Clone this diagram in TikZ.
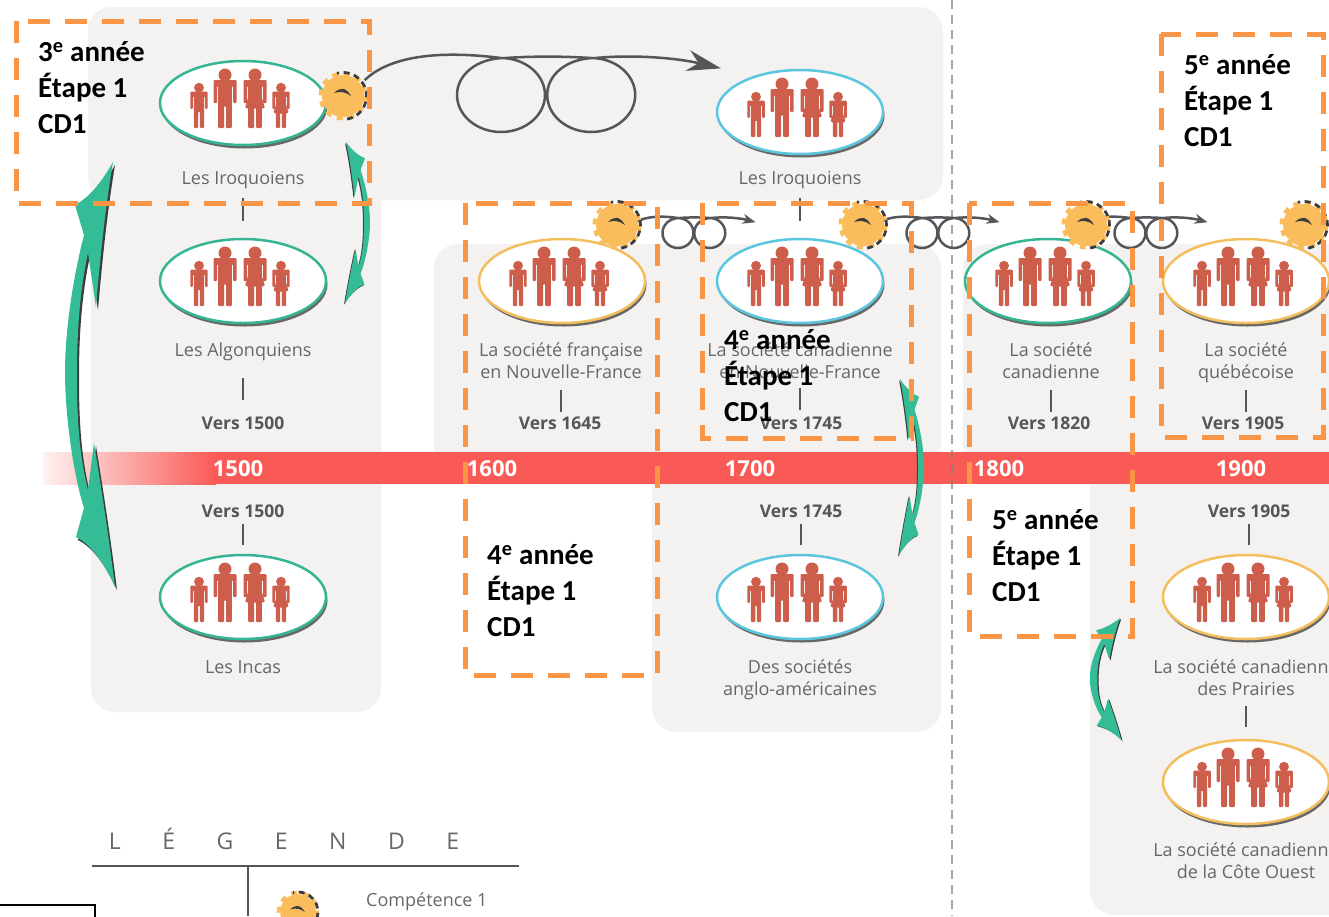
\documentclass[tikz,border=0pt]{standalone}
\usepackage{fontspec}
\usepackage{tikz}
\usetikzlibrary{shapes.geometric,shadows,arrows.meta}
\newfontfamily\panelfont{Open Sans}
\newfontfamily\notefont{Carlito}
\definecolor{panel gray}{HTML}{F3F2F0}
\definecolor{bar red}{HTML}{F95A56}
\definecolor{figure red}{HTML}{CE5E4C}
\definecolor{label gray}{HTML}{66676A}
\definecolor{date gray}{HTML}{54565A}
\definecolor{dark gray}{HTML}{3C3C3E}
\definecolor{soft green}{HTML}{36B594}
\definecolor{soft blue}{HTML}{5CC6DE}
\definecolor{soft yellow}{HTML}{F3BE5E}
\definecolor{gear yellow}{HTML}{FBBC5B}
\definecolor{swoosh green}{HTML}{33BC95}
\definecolor{etape orange}{HTML}{F99544}
\tikzset{
	soc label/.style = {font = \panelfont\fontsize{18}{22}\selectfont, text = label gray, align = center, inner sep = 0pt, text height = 16pt, text depth = 4pt},
	date label/.style = {font = \panelfont\bfseries\fontsize{17.5}{22}\selectfont, text = date gray, inner sep = 0pt, text height = 16pt, text depth = 4pt},
	year label/.style = {font = \panelfont\bfseries\fontsize{22}{24}\selectfont, text = white, inner sep = 0pt},
	note label/.style = {font = \notefont\bfseries\fontsize{29}{36}\selectfont, text = black, align = left, anchor = west, inner sep = 0pt},
	oval/.style = {ellipse, fill = white, draw = #1, line width = 2.5pt, minimum width = 166pt, minimum height = 84pt, inner sep = 0pt,
		drop shadow = {shadow xshift = 1.5pt, shadow yshift = -3.5pt, fill = gray!70!black, opacity = 0.9}},
	tick/.style = {draw = date gray, line width = 2.5pt},
	etape/.style = {draw = etape orange, line width = 5pt, dash pattern = on 22pt off 15pt},
	curl line/.style = {draw = date gray, line width = 2.5pt},
	man/.pic = {
		\fill[figure red] (0, -53) circle (6.5);
		\fill[figure red, rounded corners = 1pt] (-11.5, -48) -- (11.5, -48) -- (11.5, -25) -- (8, -25) -- (8, -42) -- (6.8, -42)
			-- (6.8, 0) -- (1, 0) -- (1, -22) -- (-1, -22) -- (-1, 0) -- (-6.8, 0) -- (-6.8, -42) -- (-8, -42) -- (-8, -25) -- (-11.5, -25) -- cycle;
	},
	woman/.pic = {
		\fill[figure red] (0, -53) circle (6.5);
		\fill[figure red, rounded corners = 1pt] (-11.5, -48) -- (11.5, -48) -- (11.5, -25) -- (8, -25) -- (8, -42) -- (6.8, -42)
			-- (6.8, -30) -- (10, -20) -- (6.8, -20)
			-- (6.8, 0) -- (1, 0) -- (1, -20) -- (-1, -20) -- (-1, 0) -- (-6.8, 0)
			-- (-6.8, -20) -- (-10, -20) -- (-6.8, -30) -- (-6.8, -42) -- (-8, -42) -- (-8, -25) -- (-11.5, -25) -- cycle;
	},
	family/.pic = {
		\pic[scale = 0.76] at (-44, 25) {man};
		\pic at (-18, 25) {man};
		\pic at (12, 25) {woman};
		\pic[scale = 0.76] at (38, 25) {woman};
	},
	gear/.pic = {
		\fill[gear yellow] (0, 0) circle (21);
		\draw[gear yellow, line width = 5pt, dash pattern = on 5.8pt off 5.8pt] (0, 0) circle (22);
		\draw[dark gray, line width = 2.8pt, dash pattern = on 6pt off 4.5pt] (80:23.5) arc (80:-105:23.5);
		\fill[dark gray] (-9, -3) .. controls (-3, -9) and (3, -9) .. (8, 0) .. controls (3, -4) and (-3, -5) .. cycle;
	},
	swoosh/.pic = {
		\fill[dark gray, shift = {(2, 3)}] (0, 0) .. controls (-13, 23) and (-25, 36) .. (-38, 43) -- (-29, 73)
			.. controls (-43, 128) and (-48, 178) .. (-48, 211) .. controls (-48, 248) and (-41, 308) .. (-29, 346) -- (-37, 375)
			.. controls (-21, 383) and (-8, 403) .. (2, 425) .. controls (-5, 368) and (-13, 318) .. (-19, 281) -- (-25, 328)
			.. controls (-35, 288) and (-36, 248) .. (-36, 211) .. controls (-36, 168) and (-33, 128) .. (-25, 91) -- (-17, 145)
			.. controls (-13, 98) and (-8, 48) .. cycle;
		\fill[swoosh green] (0, 0) .. controls (-13, 23) and (-25, 36) .. (-38, 43) -- (-29, 73)
			.. controls (-43, 128) and (-48, 178) .. (-48, 211) .. controls (-48, 248) and (-41, 308) .. (-29, 346) -- (-37, 375)
			.. controls (-21, 383) and (-8, 403) .. (2, 425) .. controls (-5, 368) and (-13, 318) .. (-19, 281) -- (-25, 328)
			.. controls (-35, 288) and (-36, 248) .. (-36, 211) .. controls (-36, 168) and (-33, 128) .. (-25, 91) -- (-17, 145)
			.. controls (-13, 98) and (-8, 48) .. cycle;
	}
}
% an oval with its four figures
\newcommand{\societe}[4]{
	\node[oval = #4] (#1) at (#2, #3) {};
	\pic at (#1) {family};
}
% the curly arrow, given by the centre of its first loop and the size of the loops
\newcommand{\curlarrow}[6]{
	\draw[curl line, -{Stealth[length = #5, width = #6]}, shift = {(#1, #2)}, xscale = #3, yscale = #4]
		(-3.1, -0.4) .. controls (-2.4, -1.2) and (-1, -1.15) .. (0, -1)
		.. controls (0.55, -1) and (1, -0.55) .. (1, 0)
		.. controls (1, 0.55) and (0.55, 1) .. (0, 1)
		.. controls (-0.55, 1) and (-1, 0.55) .. (-1, 0)
		.. controls (-1, -0.55) and (-0.55, -1) .. (0.1, -1)
		.. controls (0.7, -1.05) and (1.4, -1.05) .. (2.05, -1)
		.. controls (2.6, -1) and (3.05, -0.55) .. (3.05, 0)
		.. controls (3.05, 0.55) and (2.6, 1) .. (2.05, 1)
		.. controls (1.5, 1) and (1.05, 0.55) .. (1.05, 0)
		.. controls (1.05, -0.55) and (1.5, -1) .. (2.15, -1)
		.. controls (3, -1.1) and (4, -1) .. (5, -0.72);
}
\begin{document}
\begin{tikzpicture}[x = 1pt, y = -1pt]
	\useasboundingbox (0, 0) rectangle (1329, 916);
	\clip (0, 0) rectangle (1329, 916);
	% gray panels
	\fill[panel gray, rounded corners = 24pt] (88, 7) rectangle (943, 200);
	\fill[panel gray, rounded corners = 24pt] (91, 100) rectangle (381, 712);
	\fill[panel gray, rounded corners = 24pt] (434, 244) rectangle (941, 470);
	\fill[panel gray, rounded corners = 24pt] (652, 440) rectangle (941, 732);
	\fill[panel gray, rounded corners = 24pt] (963, 244) rectangle (1360, 470);
	\fill[panel gray, rounded corners = 24pt] (1090, 440) rectangle (1360, 915);
	% time line
	\shade[left color = bar red!8, right color = bar red] (43, 452) rectangle (216, 484);
	\fill[bar red] (216, 452) rectangle (1329, 484);
	\draw[gray, opacity = 0.7, line width = 1.5pt, dash pattern = on 9pt off 6pt] (952, 0) -- (952, 916);
	\node[year label] (year a) at (238, 469) {1500};
	\node[year label] (year b) at (492, 469) {1600};
	\node[year label] (year c) at (750, 469) {1700};
	\node[year label] (year d) at (999, 469) {1800};
	\node[year label] (year e) at (1241, 469) {1900};
	% societies
	\societe{iroquois a}{243}{103}{soft green}
	\societe{iroquois b}{800}{112}{soft blue}
	\societe{algonquin}{243}{281}{soft green}
	\societe{france}{562}{281}{soft yellow}
	\societe{canada a}{800}{281}{soft blue}
	\societe{canada b}{1048}{281}{soft green}
	\societe{quebec}{1246}{281}{soft yellow}
	\societe{inca}{243}{597}{soft green}
	\societe{anglo}{800}{597}{soft blue}
	\societe{prairie}{1246}{597}{soft yellow}
	\societe{ouest}{1246}{782}{soft yellow}
	% labels
	\node[soc label] (iroquois a text) at (243, 178) {Les Iroquoiens};
	\node[soc label] (iroquois b text) at (800, 178) {Les Iroquoiens};
	\node[soc label] (algonquin text) at (243, 350) {Les Algonquiens};
	\node[soc label] (france text) at (561, 372) {La société française\\en Nouvelle-France};
	\node[soc label] (canada a text) at (800, 372) {La société canadienne\\en Nouvelle-France};
	\node[soc label] (canada b text) at (1051, 372) {La société\\canadienne};
	\node[soc label] (quebec text) at (1246, 372) {La société\\québécoise};
	\node[soc label] (inca text) at (243, 667) {Les Incas};
	\node[soc label] (anglo text) at (800, 689) {Des sociétés\\anglo-américaines};
	\node[soc label] (prairie text) at (1246, 689) {La société canadienne\\des Prairies};
	\node[soc label] (ouest text) at (1246, 872) {La société canadienne\\de la Côte Ouest};
	\node[date label] (date a) at (243, 423) {Vers 1500};
	\node[date label] (date b) at (560, 423) {Vers 1645};
	\node[date label] (date c) at (801, 423) {Vers 1745};
	\node[date label] (date d) at (1049, 423) {Vers 1820};
	\node[date label] (date e) at (1243, 423) {Vers 1905};
	\node[date label] (date f) at (243, 511) {Vers 1500};
	\node[date label] (date g) at (801, 511) {Vers 1745};
	\node[date label] (date h) at (1249, 511) {Vers 1905};
	% little bars between them
	\draw[tick, shorten <= 10pt, shorten >= 17pt] (iroquois a text.south) -- (iroquois a text.south |- algonquin.north);
	\draw[tick, shorten <= 10pt, shorten >= 17pt] (iroquois b text.south) -- (canada a.north);
	\draw[tick, shorten <= 18pt, shorten >= 13pt] (algonquin text.south) -- (date a.north);
	\draw[tick, shorten <= 8pt, shorten >= 1pt] (france text.south) -- (france text.south |- date b.north);
	\draw[tick, shorten <= 6pt, shorten >= 3pt] (canada a text.south) -- (date c.north -| canada a text.south);
	\draw[tick, shorten <= 8pt, shorten >= 1pt] (canada b text.south) -- (canada b text.south |- date d.north);
	\draw[tick, shorten <= 8pt, shorten >= 1pt] (quebec text.south) -- (quebec text.south |- date e.north);
	\draw[tick, shorten <= 3pt, shorten >= 9pt] (date f.south) -- (inca.north);
	\draw[tick, shorten <= 3pt, shorten >= 9pt] (date g.south) -- (date g.south |- anglo.north);
	\draw[tick, shorten <= 3pt, shorten >= 9pt] (date h.south) -- (date h.south |- prairie.north);
	\draw[tick, shorten <= 7pt, shorten >= 12pt] (prairie text.south) -- (ouest.north);
	% curly arrows
	\curlarrow{501}{95}{44}{37}{34pt}{21pt}
	\curlarrow{678}{233}{15.5}{15}{13pt}{10pt}
	\curlarrow{922}{233}{15.5}{15}{13pt}{10pt}
	\curlarrow{1130}{233}{15.5}{15}{13pt}{10pt}
	% gears
	\pic at (343, 96) {gear};
	\pic at (617, 225) {gear};
	\pic at (863, 225) {gear};
	\pic at (1086, 225) {gear};
	\pic at (1304, 225) {gear};
	% green arrows
	\pic at (113, 162) {swoosh};
	\pic[xscale = -0.5, yscale = 0.38] at (346, 142) {swoosh};
	\pic[xscale = -0.5, yscale = 0.415] at (900, 379) {swoosh};
	\pic[xscale = 0.63, yscale = 0.287] at (1120, 618) {swoosh};
	% legend
	\node[soc label, font = \panelfont\fontsize{23}{26}\selectfont] (legend title) at (284, 843) {\spaceskip = 41.5pt\relax L É G E N D E};
	\draw[date gray, line width = 2.5pt] (92, 866) -- (519, 866);
	\draw[date gray, line width = 2.5pt] (248, 866) -- (248, 916);
	\pic[scale = 0.85] at (298, 912) {gear};
	\node[soc label, anchor = west] (legend text) at (366, 900) {Compétence 1};
	\draw[black, line width = 2pt] (-5, 905) rectangle (95, 930);
	% boxes of the school years
	\draw[etape] (16, 21) rectangle (369, 203);
	\draw[etape] (465, 203) rectangle (657, 675);
	\draw[etape] (702, 203) rectangle (911, 438);
	\draw[etape] (969, 203) rectangle (1132, 636);
	\draw[etape] (1161, 34) rectangle (1323, 437);
	\node[note label] (note a) at (38, 88) {3\textsuperscript{e} année\\Étape 1\\CD1};
	\node[note label] (note b) at (487, 591) {4\textsuperscript{e} année\\Étape 1\\CD1};
	\node[note label] (note c) at (724, 376) {4\textsuperscript{e} année\\Étape 1\\CD1};
	\node[note label] (note d) at (992, 556) {5\textsuperscript{e} année\\Étape 1\\CD1};
	\node[note label] (note e) at (1184, 101) {5\textsuperscript{e} année\\Étape 1\\CD1};
\end{tikzpicture}
\end{document}
